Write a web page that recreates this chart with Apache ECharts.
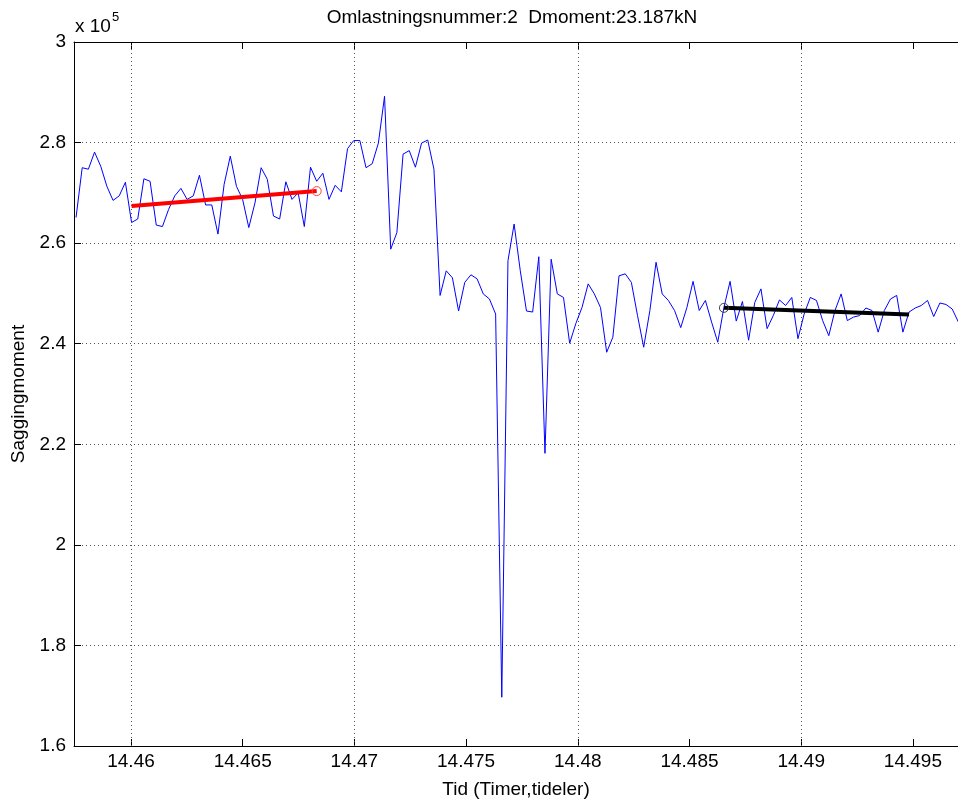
<!DOCTYPE html>
<html>
<head>
<meta charset="utf-8">
<script src="https://cdn.jsdelivr.net/npm/echarts@6/dist/echarts.min.js"></script>
<style>
html,body{margin:0;padding:0;background:#fff;}
#c{width:958px;height:804px;}
</style>
</head>
<body>
<div id="c"></div>
<script>
// ---- data (moment values in units of 1e5) ----
const times = [
14.457540,14.457816,14.458092,14.458369,14.458645,14.458921,14.459197,14.459473,14.459750,14.460026,
14.460302,14.460578,14.460854,14.461131,14.461407,14.461683,14.461959,14.462235,14.462512,14.462788,
14.463064,14.463340,14.463616,14.463893,14.464169,14.464445,14.464721,14.464997,14.465274,14.465550,
14.465826,14.466102,14.466378,14.466655,14.466931,14.467207,14.467483,14.467759,14.468036,14.468312,
14.468588,14.468864,14.469140,14.469417,14.469693,14.469969,14.470245,14.470521,14.470798,14.471074,
14.471350,14.471626,14.471902,14.472179,14.472455,14.472731,14.473007,14.473283,14.473560,14.473836,
14.474112,14.474388,14.474664,14.474941,14.475217,14.475493,14.475769,14.476045,14.476322,14.476598,
14.476874,14.477150,14.477426,14.477703,14.477979,14.478255,14.478531,14.478807,14.479084,14.479360,
14.479636,14.479912,14.480188,14.480465,14.480741,14.481017,14.481293,14.481569,14.481846,14.482122,
14.482398,14.482674,14.482950,14.483227,14.483503,14.483779,14.484055,14.484331,14.484608,14.484884,
14.485160,14.485436,14.485712,14.485989,14.486265,14.486541,14.486817,14.487093,14.487370,14.487646,
14.487922,14.488198,14.488474,14.488751,14.489027,14.489303,14.489579,14.489855,14.490132,14.490408,
14.490684,14.490960,14.491236,14.491513,14.491789,14.492065,14.492341,14.492617,14.492894,14.493170,
14.493446,14.493722,14.493998,14.494275,14.494551,14.494827,14.495103,14.495379,14.495655,14.495932,
14.496208,14.496484,14.496760,14.497036
];
const saggingE5 = [
2.651,2.750,2.747,2.781,2.753,2.713,2.685,2.694,2.721,2.641,
2.648,2.728,2.723,2.636,2.633,2.667,2.694,2.709,2.687,2.694,
2.735,2.676,2.676,2.618,2.717,2.773,2.713,2.687,2.631,2.680,
2.750,2.727,2.654,2.648,2.722,2.687,2.700,2.633,2.751,2.723,
2.739,2.687,2.715,2.702,2.788,2.804,2.804,2.750,2.758,2.799,
2.892,2.588,2.621,2.777,2.784,2.751,2.799,2.805,2.747,2.496,
2.545,2.531,2.465,2.522,2.537,2.529,2.499,2.489,2.459,1.697,
2.565,2.638,2.545,2.465,2.463,2.573,2.182,2.568,2.499,2.492,
2.401,2.440,2.472,2.519,2.499,2.472,2.383,2.413,2.535,2.539,
2.522,2.456,2.393,2.466,2.562,2.499,2.486,2.466,2.432,2.472,
2.524,2.466,2.486,2.443,2.403,2.472,2.524,2.445,2.484,2.407,
2.482,2.509,2.430,2.456,2.487,2.476,2.492,2.410,2.459,2.492,
2.486,2.446,2.416,2.466,2.499,2.446,2.453,2.456,2.471,2.466,
2.423,2.466,2.489,2.496,2.423,2.463,2.471,2.476,2.486,2.454,
2.481,2.478,2.469,2.443
];
const redFitT = [14.460026, 14.468312];
const redFitV = [2.674, 2.7035];
const blackFitT = [14.486541, 14.494827];
const blackFitV = [2.4713, 2.458];
const xTicks = [14.46,14.465,14.47,14.475,14.48,14.485,14.49,14.495];
const xTickLabels = ['14.46','14.465','14.47','14.475','14.48','14.485','14.49','14.495'];
const yTicks = [1.6,1.8,2.0,2.2,2.4,2.6,2.8,3.0];
const yTickLabels = ['1.6','1.8','2','2.2','2.4','2.6','2.8','3'];
const titleText = 'Omlastningsnummer:2  Dmoment:23.187kN';
const xName = 'Tid (Timer,tideler)';
const yName = 'Saggingmoment';

// ---- chart ----
const FONT = '"Liberation Sans", Arial, Helvetica, sans-serif';
const xMin = 14.457449, xMax = 14.497019;
const gridStyle = {color:'#555', width:1, type:[1,3]};

function xLab(v){
  for (let i=0;i<xTicks.length;i++) if (Math.abs(v-xTicks[i])<1e-7) return xTickLabels[i];
  return '';
}
function yLab(v){
  for (let i=0;i<yTicks.length;i++) if (Math.abs(v-yTicks[i])<1e-7) return yTickLabels[i];
  return '';
}

const blueData = times.map((t,i)=>[t, saggingE5[i]]);
const redData = [{value:[redFitT[0],redFitV[0]], symbol:'none'}, {value:[redFitT[1],redFitV[1]]}];
const blackData = [{value:[blackFitT[0],blackFitV[0]]}, {value:[blackFitT[1],blackFitV[1]], symbol:'none'}];

const chart = echarts.init(document.getElementById('c'), null, {renderer:'canvas'});
const axisCommonX = {
  type:'value', min:xMin, max:xMax,
  axisLine:{show:true, onZero:false, lineStyle:{color:'#000', width:1}},
  axisTick:{show:true, inside:true, length:7, customValues:xTicks, lineStyle:{color:'#000'}},
  splitLine:{show:false}
};
chart.setOption({
  animation:false,
  backgroundColor:'#fff',
  grid:{left:74, right:0, top:42, bottom:58, containLabel:false},
  xAxis:[
    Object.assign({}, axisCommonX, {
      position:'bottom',
      name:xName, nameLocation:'middle', nameGap:34,
      nameTextStyle:{fontSize:19, fontFamily:FONT, color:'#000'},
      axisLabel:{show:true, customValues:xTicks, formatter:xLab, fontSize:19, fontFamily:FONT, color:'#000', margin:6}
    }),
    Object.assign({}, axisCommonX, {
      position:'top',
      axisLabel:{show:false}
    })
  ],
  yAxis:[{
    type:'value', min:1.6, max:3.0, interval:0.2,
    name:yName, nameLocation:'middle', nameGap:44, nameRotate:90,
    nameTextStyle:{fontSize:19, fontFamily:FONT, color:'#000'},
    axisLine:{show:true, lineStyle:{color:'#000', width:1}},
    axisTick:{show:true, inside:true, length:7, lineStyle:{color:'#000'}},
    axisLabel:{formatter:yLab, fontSize:19, fontFamily:FONT, color:'#000', margin:8},
    splitLine:{show:true, lineStyle:gridStyle}
  }],
  series:[
    {
      type:'line', xAxisIndex:0, yAxisIndex:0,
      data:blueData, showSymbol:false, symbol:'none',
      lineStyle:{color:'#0000ff', width:1}, z:3,
      markLine:{
        silent:true, symbol:['none','none'], z:1,
        label:{show:false},
        lineStyle:gridStyle,
        emphasis:{disabled:true},
        data:xTicks.map(v=>({xAxis:v}))
      }
    },
    {
      type:'line', xAxisIndex:0, yAxisIndex:0,
      data:redData, symbol:'circle', symbolSize:9, showSymbol:true, showAllSymbol:true,
      itemStyle:{color:'rgba(0,0,0,0)', borderColor:'#ff4040', borderWidth:1},
      lineStyle:{color:'#ff0000', width:4}, z:4
    },
    {
      type:'line', xAxisIndex:0, yAxisIndex:0,
      data:blackData, symbol:'circle', symbolSize:9, showSymbol:true, showAllSymbol:true,
      itemStyle:{color:'rgba(0,0,0,0)', borderColor:'#404040', borderWidth:1},
      lineStyle:{color:'#000000', width:4}, z:4
    }
  ],
  graphic:[
    {type:'text', x:512, y:8, style:{text:titleText, fontSize:19, fontFamily:FONT, fill:'#000', align:'center', verticalAlign:'top'}},
    {type:'text', x:75, y:17, style:{text:'x 10', fontSize:19, fontFamily:FONT, fill:'#000', align:'left', verticalAlign:'top'}},
    {type:'text', x:112, y:11, style:{text:'5', fontSize:13, fontFamily:FONT, fill:'#000', align:'left', verticalAlign:'top'}}
  ]
});
</script>
</body>
</html>
